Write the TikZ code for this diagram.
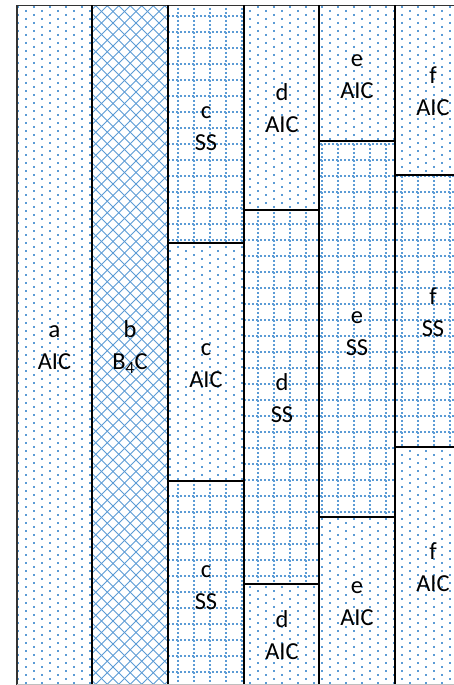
\documentclass[tikz,border=0pt]{standalone}
\usepackage{fontspec}
\setmainfont{Carlito}
\usetikzlibrary{positioning}
\usepackage{xcolor}
\definecolor{patblue}{RGB}{91,155,213}

% fillers: #1 left, #2 top, #3 right, #4 bottom
\newcommand{\alcpattern}[4]{%
  \begin{scope}
    \clip (#1,#2) rectangle (#3,#4);
    \foreach \x in {2,18,...,466} \draw[dotline] (\x,6) -- (\x,692);
    \foreach \x in {10,26,...,474} \draw[dotline] (\x,2) -- (\x,692);
  \end{scope}}
\newcommand{\sspattern}[4]{%
  \begin{scope}
    \clip (#1,#2) rectangle (#3,#4);
    \foreach \x in {2,18,...,466} \draw[gridline] (\x,0) -- (\x,692);
    \foreach \y in {16,32,...,688} \draw[gridline] (0,\y) -- (480,\y);
  \end{scope}}
\newcommand{\bcpattern}[4]{%
  \begin{scope}
    \clip (#1,#2) rectangle (#3,#4);
    \foreach \c in {-600,-588.5,...,880} {
      \draw[hatchline] (\c,0) -- ++(-700,700);
      \draw[hatchline] (\c,0) -- ++(700,700);
    }
  \end{scope}}

\begin{document}
\begin{tikzpicture}[
  x=1bp, y=-1bp,
  frame/.style={draw=black!80, line width=1.5bp},
  divider/.style={draw=black, line width=1.6bp},
  dotline/.style={patblue, line width=2bp, dash pattern=on 2bp off 6bp},
  gridline/.style={patblue, line width=2bp, dash pattern=on 2bp off 2bp},
  hatchline/.style={patblue, line width=0.75bp},
  lbl/.style={font=\fontsize{24.5}{32}\selectfont, align=center, inner sep=0pt}
]
\useasboundingbox (0,0) rectangle (454,685);
\clip (0,0) rectangle (454,685);

% layers
\alcpattern{17}{5.5}{92}{690}
\bcpattern{92}{5.5}{168}{690}
\sspattern{168}{5.5}{244}{243}
\alcpattern{168}{243}{244}{481}
\sspattern{168}{481}{244}{690}
\alcpattern{244}{5.5}{319}{210}
\sspattern{244}{210}{319}{584}
\alcpattern{244}{584}{319}{690}
\alcpattern{319}{5.5}{395}{141}
\sspattern{319}{141}{395}{517}
\alcpattern{319}{517}{395}{690}
\alcpattern{395}{5.5}{471}{175}
\sspattern{395}{175}{471}{447}
\alcpattern{395}{447}{471}{690}

% borders
\draw[frame] (17,690) -- (17,5.5) -- (460,5.5);
\foreach \x in {92,168,244,319,395} \draw[divider] (\x,5.5) -- (\x,690);
\draw[divider] (168,243) -- (244,243);
\draw[divider] (168,481) -- (244,481);
\draw[divider] (244,210) -- (319,210);
\draw[divider] (244,584) -- (319,584);
\draw[divider] (319,141) -- (395,141);
\draw[divider] (319,517) -- (395,517);
\draw[divider] (395,175) -- (471,175);
\draw[divider] (395,447) -- (471,447);
\draw[black!25, line width=1bp] (17,684.5) -- (454,684.5);

% labels
\node[lbl] (a) at (54.5,347.5) {\strut a\\\strut AIC};
\node[lbl] (b) at (130,347.5) {\strut b\\\strut B\textsubscript{4}C};
\node[lbl] (c1) at (206,128.5) {\strut c\\\strut SS};
\node[lbl] (c2) at (206,365.5) {\strut c\\\strut AIC};
\node[lbl] (c3) at (206,587.5) {\strut c\\\strut SS};
\node[lbl] (d1) at (282,110.5) {\strut d\\\strut AIC};
\node[lbl] (d2) at (282,400.5) {\strut d\\\strut SS};
\node[lbl] (d3) at (282,637.5) {\strut d\\\strut AIC};
\node[lbl] (e1) at (357,76.5) {\strut e\\\strut AIC};
\node[lbl] (e2) at (357,333.5) {\strut e\\\strut SS};
\node[lbl] (e3) at (357,603.5) {\strut e\\\strut AIC};
\node[lbl] (f1) at (433,93.5) {\strut f\\\strut AIC};
\node[lbl] (f2) at (433,314.5) {\strut f\\\strut SS};
\node[lbl] (f3) at (433,569.5) {\strut f\\\strut AIC};
\end{tikzpicture}
\end{document}
